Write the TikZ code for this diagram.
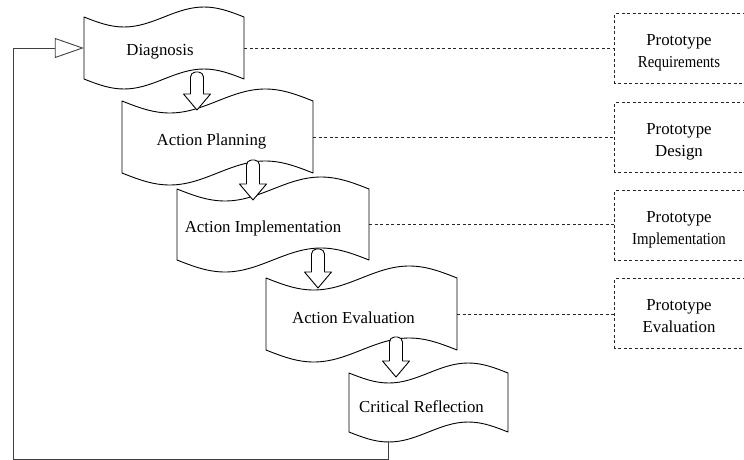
\documentclass[tikz,border=0pt]{standalone}
\usepackage{fontspec}
\usepackage{graphicx}
\setmainfont{Liberation Serif}
\usetikzlibrary{arrows.meta}
\newcommand{\tapepath}[5]{%
  \draw[shapeline] (#1,#2) sin ({#1+(#3-#1)/4},{#2+#5}) cos ({(#1+#3)/2},#2)
    sin ({#1+3*(#3-#1)/4},{#2-#5}) cos (#3,#2) -- (#3,#4)
    sin ({#1+3*(#3-#1)/4},{#4-#5}) cos ({(#1+#3)/2},#4)
    sin ({#1+(#3-#1)/4},{#4+#5}) cos (#1,#4) -- cycle;}
\newcommand{\blockarrow}[3]{%
  \draw[shapeline,rounded corners=5pt] ({#1-6.5},{#3-16}) -- ({#1-6.5},#2) -- ({#1+6.5},#2)
    [sharp corners] -- ({#1+6.5},{#3-16}) -- ({#1+13.5},{#3-16}) -- (#1,#3) -- ({#1-13.5},{#3-16}) -- cycle;}
\newcommand{\narrowtxt}[1]{\scalebox{0.88}[1]{#1}}
\newcommand{\lowtxt}[1]{\raisebox{-4pt}[\height][\depth]{#1}}
\newcommand{\twolines}[2]{\raisebox{-4pt}[\height][\depth]{\begin{tabular}{@{}c@{}}#1\\[1pt]#2\end{tabular}}}
\begin{document}
\begin{tikzpicture}[x=1pt,y=-1pt,
  shapeline/.style={draw=black,line width=0.9pt,fill=white,line join=round},
  lbl/.style={inner sep=0pt,font=\fontsize{16.8}{21}\selectfont},
  proto/.style={inner sep=0pt,minimum width=128pt,minimum height=69pt,font=\fontsize{16.8}{21}\selectfont},
  dbox/.style={draw=black!85,line width=0.8pt,dash pattern=on 3pt off 2.5pt},
  loopline/.style={draw=black!75,line width=0.9pt}]
\useasboundingbox (0,0) rectangle (744,460);
\clip (0,0) rectangle (744,460);
% tape shapes
\tapepath{84}{17}{244}{79}{10}
\tapepath{122}{101}{313}{173}{12}
\tapepath{177}{189}{369}{260}{12}
\tapepath{266}{278}{457}{350}{12}
\tapepath{349}{373}{508}{432}{10}
% labels
\node[lbl,minimum width=160pt,minimum height=62pt] (diag) at (164,48) {\lowtxt{Diagnosis}\hspace*{8pt}};
\node[lbl,minimum width=191pt,minimum height=72pt] (plan) at (217.5,137) {\lowtxt{Action Planning}\hspace*{12pt}};
\node[lbl,minimum width=192pt,minimum height=71pt] (impl) at (273,224.5) {\lowtxt{Action Implementation}\hspace*{20pt}};
\node[lbl,minimum width=191pt,minimum height=72pt] (eval) at (361.5,314) {\lowtxt{Action Evaluation}\hspace*{16pt}};
\node[lbl,minimum width=159pt,minimum height=59pt] (crit) at (428.5,402.5) {\lowtxt{Critical Reflection}\hspace*{14pt}};
% block arrows
\blockarrow{197}{72}{110}
\blockarrow{253}{160}{200}
\blockarrow{318}{249}{288}
\blockarrow{396}{337}{377}
% prototype boxes
\node[proto] (req) at (679,48.5) {\twolines{Prototype}{\narrowtxt{Requirements}}};
\node[proto] (des) at (679,137.5) {\twolines{Prototype}{Design}};
\node[proto] (pimp) at (679,225.5) {\twolines{Prototype}{\narrowtxt{Implementation}}};
\node[proto] (pev) at (679,313.5) {\twolines{Prototype}{Evaluation}};
\foreach \b in {req,des,pimp,pev}{
  \draw[dbox] ([xshift=30pt]\b.north east) -- (\b.north west) -- (\b.south west) -- ([xshift=30pt]\b.south east);
}
% dashed links
\draw[dbox] (diag.east) -- (diag.east -| req.west);
\draw[dbox] (plan.east) -- (plan.east -| des.west);
\draw[dbox] (impl.east) -- (impl.east -| pimp.west);
\draw[dbox] (eval.east) -- (eval.east -| pev.west);
% feedback loop
\coordinate (loopstart) at (388,441);
\coordinate (lb) at (388,459);
\coordinate (lc) at (13,459);
\coordinate (ld) at (13,48);
\draw[loopline,-{Triangle[open,length=29pt,width=20pt,line width=0.9pt]}]
  (loopstart) -- (lb) -- (lc) -- (ld) -- (diag.west);
\end{tikzpicture}
\end{document}
